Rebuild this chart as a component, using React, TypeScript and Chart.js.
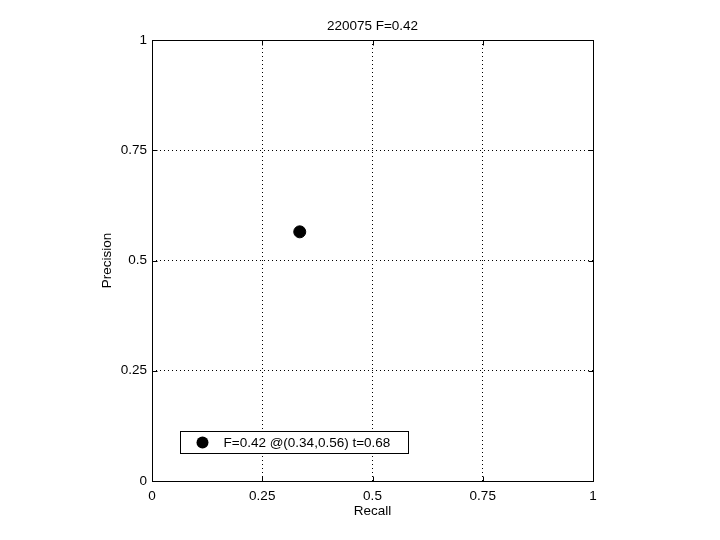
import React, { useEffect, useRef } from "react";
import { Chart, registerables } from "chart.js";

Chart.register(...registerables);

const chartTitle = "220075 F=0.42";
const xAxisTitle = "Recall";
const yAxisTitle = "Precision";
const tickValues = [0, 0.25, 0.5, 0.75, 1];
const tickLabels = ["0", "0.25", "0.5", "0.75", "1"];
const seriesLabel = "F=0.42 @(0.34,0.56) t=0.68";
const recallValues = [0.335];
const precisionValues = [0.565];

const FONT = "'Liberation Sans', Arial, Helvetica, sans-serif";
const FONT_SIZE = 13.5;

const framePlugin = {
  id: "matlabFrame",
  afterDraw(chart: any) {
    const { ctx, chartArea, scales } = chart;
    const { left, right, top, bottom } = chartArea;
    const L = Math.round(left) + 0.5;
    const R = Math.round(right) + 0.5;
    const T = Math.round(top) + 0.5;
    const B = Math.round(bottom) + 0.5;
    ctx.save();
    ctx.setLineDash([]);
    ctx.strokeStyle = "#000";
    ctx.lineWidth = 1;
    ctx.strokeRect(L, T, R - L, B - T);
    const tl = 5;
    ctx.beginPath();
    tickValues.forEach((v) => {
      const px = Math.round(scales.x.getPixelForValue(v)) + 0.5;
      ctx.moveTo(px, B);
      ctx.lineTo(px, B - tl);
      ctx.moveTo(px, T);
      ctx.lineTo(px, T + tl);
      const py = Math.round(scales.y.getPixelForValue(v)) + 0.5;
      ctx.moveTo(L, py);
      ctx.lineTo(L + tl, py);
      ctx.moveTo(R, py);
      ctx.lineTo(R - tl, py);
    });
    ctx.stroke();

    // legend box
    const bx = Math.round(left) + 28 + 0.5;
    const by = Math.round(bottom) - 50 + 0.5;
    const bw = 228;
    const bh = 22;
    ctx.fillStyle = "#fff";
    ctx.fillRect(bx, by, bw, bh);
    ctx.strokeRect(bx, by, bw, bh);
    ctx.fillStyle = "#000";
    ctx.beginPath();
    ctx.arc(bx + 22, by + 11, 6, 0, Math.PI * 2);
    ctx.fill();
    ctx.font = `${FONT_SIZE}px ${FONT}`;
    ctx.textBaseline = "middle";
    ctx.textAlign = "left";
    ctx.fillText(chart.data.datasets[0].label, bx + 43, by + 11.5);
    ctx.restore();
  },
};

export default function App() {
  const canvasRef = useRef<HTMLCanvasElement | null>(null);

  useEffect(() => {
    if (!canvasRef.current) return;
    const gridColor = (c: any) =>
      c.tick && (c.tick.value === 0 || c.tick.value === 1) ? "rgba(0,0,0,0)" : "#000";
    const setTicks = (scale: any) => {
      scale.ticks = tickValues.map((v) => ({ value: v }));
    };
    const chart = new Chart(canvasRef.current, {
      type: "scatter",
      data: {
        datasets: [
          {
            label: seriesLabel,
            data: recallValues.map((r, i) => ({ x: r, y: precisionValues[i] })),
            backgroundColor: "#000",
            borderColor: "#000",
            pointRadius: 6,
            pointHoverRadius: 6,
            pointStyle: "circle",
          },
        ],
      },
      options: {
        responsive: false,
        animation: false,
        events: [],
        layout: { padding: { left: 0, right: 127, top: 0, bottom: 0 } },
        plugins: {
          legend: { display: false },
          tooltip: { enabled: false },
          title: {
            display: true,
            fullSize: false,
            text: chartTitle,
            color: "#000",
            font: { family: FONT, size: FONT_SIZE, weight: "normal" },
            padding: { top: 18, bottom: 5.8 },
          },
        },
        scales: {
          x: {
            type: "linear",
            min: 0,
            max: 1,
            afterBuildTicks: setTicks,
            afterFit: (s: any) => {
              s.height = 59;
            },
            grid: { color: gridColor, lineWidth: 1, drawTicks: false },
            border: { display: false, dash: [1, 3] },
            ticks: {
              color: "#000",
              padding: 7,
              maxRotation: 0,
              font: { family: FONT, size: FONT_SIZE },
              callback: (v: any) => tickLabels[tickValues.indexOf(Number(v))] ?? "",
            },
            title: {
              display: true,
              text: xAxisTitle,
              color: "#000",
              font: { family: FONT, size: FONT_SIZE },
              padding: { top: 0, bottom: 21 },
            },
          },
          y: {
            type: "linear",
            min: 0,
            max: 1,
            afterBuildTicks: setTicks,
            afterFit: (s: any) => {
              s.width = 152;
            },
            grid: { color: gridColor, lineWidth: 1, drawTicks: false },
            border: { display: false, dash: [1, 3] },
            ticks: {
              color: "#000",
              padding: 5,
              font: { family: FONT, size: FONT_SIZE },
              callback: (v: any) => tickLabels[tickValues.indexOf(Number(v))] ?? "",
            },
            title: {
              display: true,
              text: yAxisTitle,
              color: "#000",
              font: { family: FONT, size: FONT_SIZE },
              padding: { top: 99, bottom: 0 },
            },
          },
        },
      },
      plugins: [framePlugin],
    } as any);
    return () => chart.destroy();
  }, []);

  return (
    <div style={{ position: "absolute", left: 0, top: 0, width: 720, height: 540, background: "#fff" }}>
      <canvas ref={canvasRef} width={720} height={540} style={{ display: "block" }} />
    </div>
  );
}
